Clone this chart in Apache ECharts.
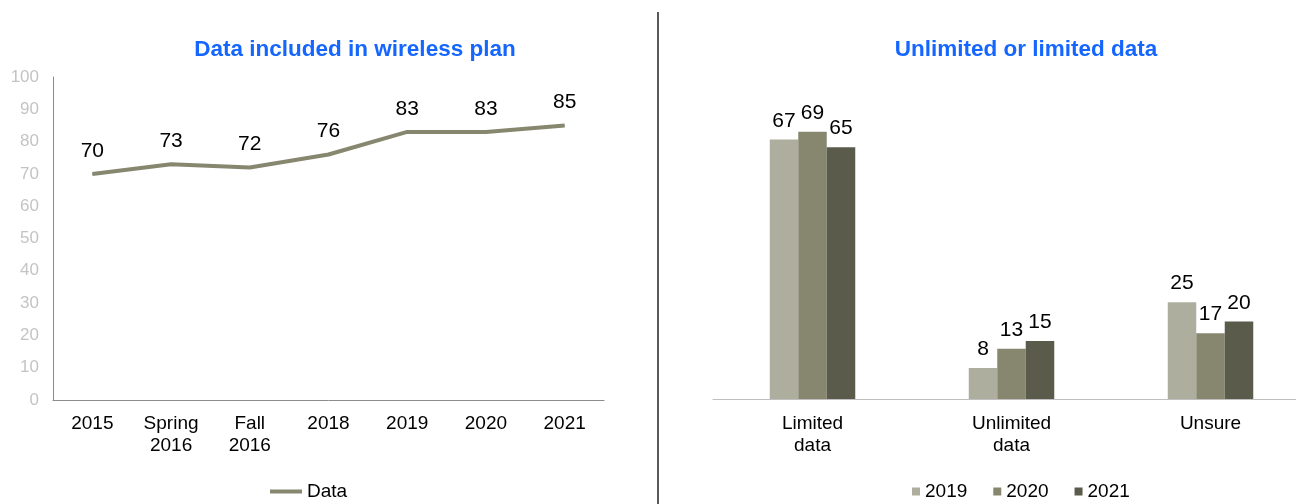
<!DOCTYPE html>
<html>
<head>
<meta charset="utf-8">
<script src="https://cdn.jsdelivr.net/npm/echarts@6/dist/echarts.min.js"></script>
<style>
  html, body { margin: 0; padding: 0; background: #ffffff; }
  #chart { width: 1296px; height: 504px; }
</style>
</head>
<body>
<div id="chart"></div>
<script>
// Left panel: share with data included in wireless plan
const planCategories = ['2015', 'Spring\n2016', 'Fall\n2016', '2018', '2019', '2020', '2021'];
const planValues = [70, 73, 72, 76, 83, 83, 85];
const planTicks = [0, 10, 20, 30, 40, 50, 60, 70, 80, 90, 100];

// Right panel: unlimited vs limited data, by year
const dataCategories = ['Limited\ndata', 'Unlimited\ndata', 'Unsure'];
const years = ['2019', '2020', '2021'];
const values2019 = [67, 8, 25];
const values2020 = [69, 13, 17];
const values2021 = [65, 15, 20];

const FONT = 'Liberation Sans, Arial, sans-serif';
const TITLE_BLUE = '#1466FF';
const LINE_COLOR = '#87876F';
const BAR_COLORS = ['#AEAE9E', '#87876F', '#5A5B4B'];

const chart = echarts.init(document.getElementById('chart'), null, { renderer: 'canvas' });

const barSeries = [values2019, values2020, values2021].map((vals, i) => ({
  name: years[i],
  type: 'bar',
  xAxisIndex: 1,
  yAxisIndex: 1,
  data: vals,
  barWidth: 28.5,
  barGap: '0%',
  itemStyle: { color: BAR_COLORS[i] },
  label: {
    show: true,
    position: 'top',
    distance: 8,
    color: '#000',
    fontFamily: FONT,
    fontSize: 21
  }
}));

chart.setOption({
  animation: false,
  textStyle: { fontFamily: FONT },
  title: [
    {
      text: 'Data included in wireless plan',
      left: 350, top: 33, textAlign: 'center',
      textStyle: { color: TITLE_BLUE, fontSize: 22.5, fontWeight: 'bold', fontFamily: FONT }
    },
    {
      text: 'Unlimited or limited data',
      left: 1021, top: 33, textAlign: 'center',
      textStyle: { color: TITLE_BLUE, fontSize: 22.5, fontWeight: 'bold', fontFamily: FONT }
    }
  ],
  legend: [
    {
      data: ['Data'],
      left: 265, top: 477,
      icon: 'rect',
      itemWidth: 32, itemHeight: 4,
      textStyle: { color: '#000', fontSize: 19, fontFamily: FONT }
    },
    {
      data: years,
      left: 907, top: 477,
      icon: 'rect',
      itemWidth: 8, itemHeight: 8,
      itemGap: 26,
      textStyle: { color: '#000', fontSize: 19, fontFamily: FONT }
    }
  ],
  grid: [
    { left: 53, width: 551, top: 77, height: 323, containLabel: false, outerBoundsMode: 'none' },
    { left: 713, width: 597, top: 89, height: 310, containLabel: false, outerBoundsMode: 'none' }
  ],
  xAxis: [
    {
      type: 'category', gridIndex: 0, data: planCategories,
      boundaryGap: true,
      axisLine: { lineStyle: { color: '#8C8C8C', width: 1 } },
      axisTick: { show: false },
      axisLabel: { color: '#000', fontSize: 19, fontFamily: FONT, margin: 13, lineHeight: 22, interval: 0 }
    },
    {
      type: 'category', gridIndex: 1, data: dataCategories,
      axisLine: { lineStyle: { color: '#BFBFBF', width: 1 } },
      axisTick: { show: false },
      axisLabel: { color: '#000', fontSize: 19, fontFamily: FONT, margin: 14, lineHeight: 22, interval: 0 }
    }
  ],
  yAxis: [
    {
      type: 'value', gridIndex: 0,
      min: planTicks[0], max: planTicks[planTicks.length - 1], interval: 10,
      axisLine: { show: true, lineStyle: { color: '#8C8C8C', width: 1 } },
      axisTick: { show: false },
      splitLine: { show: false },
      axisLabel: { color: '#C4C4C4', fontSize: 17, fontFamily: FONT, margin: 14 }
    },
    {
      type: 'value', gridIndex: 1, min: 0, max: 80,
      show: false,
      splitLine: { show: false }
    }
  ],
  series: [
    {
      name: 'Data',
      type: 'line',
      xAxisIndex: 0, yAxisIndex: 0,
      data: planValues,
      symbol: 'circle',
      symbolSize: 1,
      showSymbol: true,
      color: LINE_COLOR,
      itemStyle: { color: LINE_COLOR },
      lineStyle: { color: LINE_COLOR, width: 4 },
      label: {
        show: true, position: 'top', distance: 12,
        color: '#000', fontSize: 21, fontFamily: FONT
      }
    },
    ...barSeries
  ],
  graphic: [
    {
      type: 'line',
      shape: { x1: 658, y1: 12, x2: 658, y2: 504 },
      style: { stroke: '#595959', lineWidth: 2 }
    }
  ]
});
</script>
</body>
</html>
